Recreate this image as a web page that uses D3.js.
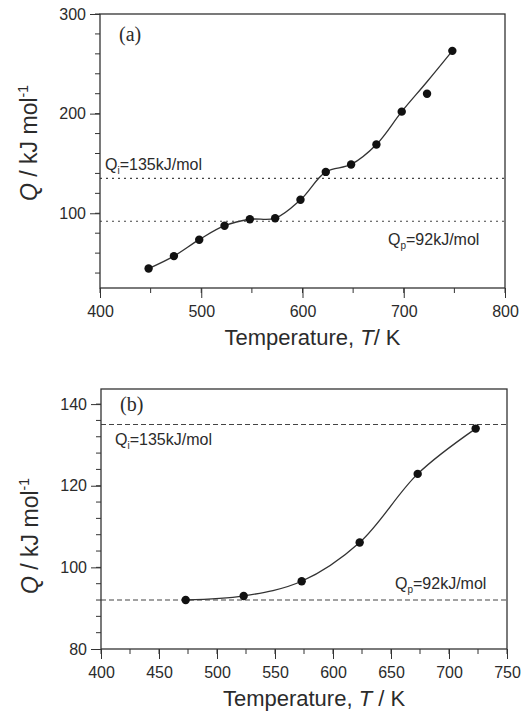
<!DOCTYPE html>
<html>
<head>
<meta charset="utf-8">
<script src="https://cdn.jsdelivr.net/npm/d3@7"></script>
<style>
  body { margin: 0; background: #fff; }
  text { font-family: 'Liberation Sans', Arial, sans-serif; fill: #2b2b2b; }
</style>
</head>
<body>
<div id="chart"></div>
<script>
// panel (a) measurements
const tempA = [448, 473, 498, 523, 548, 573, 598, 623, 648, 673, 698, 723, 748];
const qA = [44.5, 57, 73.5, 87.5, 94, 95, 113.5, 141.5, 149, 169, 202, 220, 263];
// fitted curve drawn through (a)
const fitA = [44.5, 57, 73.5, 87.5, 94, 95, 113.5, 141.5, 149, 169, 202, 232, 263];

// panel (b) measurements
const tempB = [473, 523, 573, 623, 673, 723];
const qB = [92, 93, 96.6, 106.1, 122.9, 134];

// reference levels
const qI = 135;
const qP = 92;

// axis ticks
const xTicksA = [400, 500, 600, 700, 800];
const yTicksA = [100, 200, 300];
const xTicksB = [400, 450, 500, 550, 600, 650, 700, 750];
const yTicksB = [80, 100, 120, 140];

const svg = d3.select('#chart')
  .append('svg')
  .attr('width', 530)
  .attr('height', 713);

function plot(cfg) {
  const x = d3.scaleLinear().domain(cfg.xDomain).range([cfg.left, cfg.right]);
  const y = d3.scaleLinear().domain(cfg.yDomain).range([cfg.bottom, cfg.top]);
  const g = svg.append('g');

  // reference lines
  [qI, qP].forEach(v => {
    g.append('line')
      .attr('x1', cfg.left).attr('x2', cfg.right)
      .attr('y1', y(v)).attr('y2', y(v))
      .attr('stroke', '#444')
      .attr('stroke-width', 1.1)
      .attr('stroke-dasharray', cfg.dash);
  });

  // minor ticks
  const minorX = d3.range(cfg.xDomain[0], cfg.xDomain[1] + 0.1, cfg.xMinor);
  g.selectAll('.mx').data(minorX).enter().append('line')
    .attr('x1', d => x(d)).attr('x2', d => x(d))
    .attr('y1', cfg.bottom).attr('y2', cfg.bottom + 5)
    .attr('stroke', '#333');
  const minorY = d3.range(cfg.yMinorStart, cfg.yDomain[1] + 0.1, cfg.yMinor);
  g.selectAll('.my').data(minorY).enter().append('line')
    .attr('x1', cfg.left - 5).attr('x2', cfg.left)
    .attr('y1', d => y(d)).attr('y2', d => y(d))
    .attr('stroke', '#333');

  // axes
  const xAxis = g.append('g')
    .attr('transform', 'translate(0,' + cfg.bottom + ')')
    .call(d3.axisBottom(x).tickValues(cfg.xTicks).tickSize(10).tickPadding(8).tickSizeOuter(0));
  const yAxis = g.append('g')
    .attr('transform', 'translate(' + cfg.left + ',0)')
    .call(d3.axisLeft(y).tickValues(cfg.yTicks).tickSize(10).tickPadding(4).tickSizeOuter(0));
  [xAxis, yAxis].forEach(a => {
    a.select('.domain').remove();
    a.selectAll('line').attr('stroke', '#333');
    a.selectAll('text').style('font-size', '16px').attr('fill', '#333');
  });

  // frame
  g.append('rect')
    .attr('x', cfg.left).attr('y', cfg.top)
    .attr('width', cfg.right - cfg.left).attr('height', cfg.bottom - cfg.top)
    .attr('fill', 'none').attr('stroke', '#333').attr('stroke-width', 1.3);

  // curve
  const line = d3.line()
    .x(d => x(d[0]))
    .y(d => y(d[1]))
    .curve(d3.curveCatmullRom.alpha(0.5));
  g.append('path')
    .datum(d3.zip(cfg.temps, cfg.fit))
    .attr('fill', 'none')
    .attr('stroke', '#333')
    .attr('stroke-width', 1.3)
    .attr('d', line);

  // points
  g.selectAll('.pt').data(d3.zip(cfg.temps, cfg.q)).enter().append('circle')
    .attr('cx', d => x(d[0])).attr('cy', d => y(d[1]))
    .attr('r', 4.2).attr('fill', '#111');

  // panel label
  g.append('text')
    .attr('x', cfg.left + 19).attr('y', cfg.top + cfg.tagDy)
    .style('font-family', "'Liberation Serif', 'Times New Roman', serif")
    .style('font-size', '20px')
    .text(cfg.tag);

  // level labels
  function levelLabel(px, py, sub, rest) {
    const t = g.append('text').attr('x', px).attr('y', py).style('font-size', '16px');
    t.append('tspan').text('Q');
    t.append('tspan').attr('dy', 4).style('font-size', '10px').text(sub);
    t.append('tspan').attr('dy', -4).text(rest);
  }
  levelLabel(cfg.qiPos[0], cfg.qiPos[1], 'i', '=135kJ/mol');
  levelLabel(cfg.qpPos[0], cfg.qpPos[1], 'p', '=92kJ/mol');

  // axis titles
  const xt = g.append('text')
    .attr('x', (cfg.left + cfg.right) / 2 + 10).attr('y', cfg.bottom + 57)
    .attr('text-anchor', 'middle').style('font-size', '22px');
  xt.append('tspan').text('Temperature, ');
  xt.append('tspan').style('font-style', 'italic').text('T');
  xt.append('tspan').text(cfg.xUnit);

  const yt = g.append('text')
    .attr('transform', 'translate(' + (cfg.titleX) + ',' + cfg.titleY + ') rotate(-90)')
    .attr('text-anchor', 'middle').style('font-size', '23px');
  yt.append('tspan').style('font-style', 'italic').text('Q');
  yt.append('tspan').text(' / kJ mol');
  yt.append('tspan').attr('dy', -9).style('font-size', '14px').text('-1');
}

plot({
  left: 100, right: 505, top: 14, bottom: 288,
  xDomain: [400, 800], yDomain: [25, 300],
  xTicks: xTicksA, yTicks: yTicksA,
  xMinor: 50, yMinor: 20, yMinorStart: 40,
  temps: tempA, q: qA, fit: fitA,
  dash: '2,4', tag: '(a)', tagDy: 27,
  qiPos: [105, 170], qpPos: [388, 245],
  xUnit: '/ K', titleX: 37, titleY: 143
});

plot({
  left: 101, right: 507, top: 389, bottom: 649,
  xDomain: [400, 750], yDomain: [80, 143.7],
  xTicks: xTicksB, yTicks: yTicksB,
  xMinor: 25, yMinor: 4, yMinorStart: 84,
  temps: tempB, q: qB, fit: qB,
  dash: '5,3', tag: '(b)', tagDy: 22,
  qiPos: [115, 445], qpPos: [395, 589],
  xUnit: ' / K', titleX: 38, titleY: 536
});
</script>
</body>
</html>
